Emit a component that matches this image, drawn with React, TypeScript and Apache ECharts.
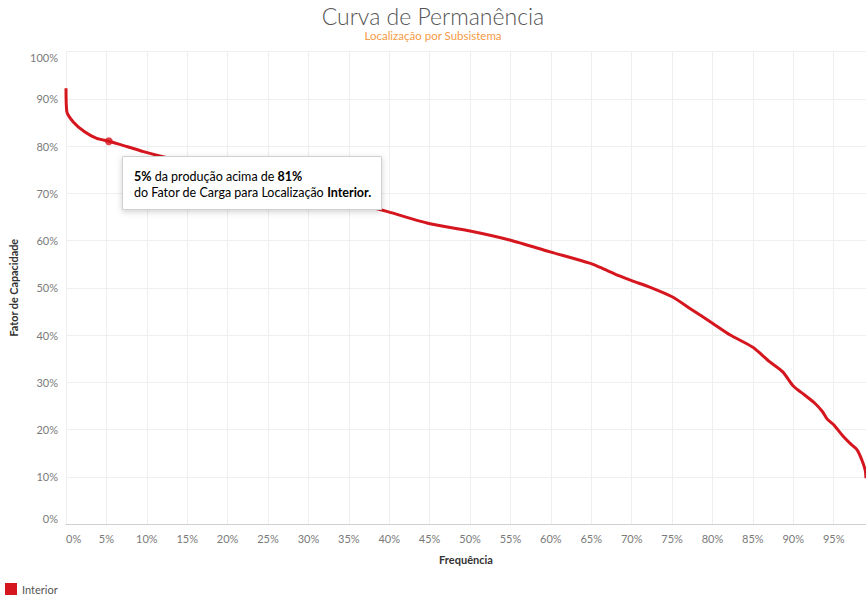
import React, { useEffect, useRef } from "react";
import * as echarts from "echarts";

const FONT = "Lato, 'Noto Sans', sans-serif";

const titleText = "Curva de Permanência";
const subtitleText = "Localização por Subsistema";
const seriesName = "Interior";
const xAxisName = "Frequência";
const yAxisName = "Fator de Capacidade";

// Frequência (%) and Fator de Capacidade (%)
const frequencia = [
  0, 0.1, 0.9, 2.3, 3.8, 5.3, 7.5, 9.6, 11.6, 15, 20, 25, 30, 35, 39.8, 44.9,
  50, 54.9, 59.9, 64.8, 66.1, 68.5, 70, 72.3, 75, 77.5, 80, 82.2, 85, 87.1,
  88.7, 90, 91.4, 92.7, 93.6, 94.2, 95, 96.2, 97, 97.9, 98.5, 98.9, 99,
];
const fatorCapacidade = [
  92.2, 87.3, 85.1, 83.0, 81.6, 81.0, 79.9, 78.8, 77.9, 76.6, 74.5, 72.4, 70.3,
  68.3, 66.1, 63.6, 62.0, 60.1, 57.6, 55.2, 54.3, 52.5, 51.5, 50.1, 48.1, 45.3,
  42.5, 40.0, 37.4, 34.3, 32.2, 29.2, 27.3, 25.5, 23.8, 22.2, 21.0, 18.5, 17.1,
  15.7, 13.5, 11.4, 9.7,
];

// highlighted point shown in the tooltip
const highlightFreq = [5.3];
const highlightCap = [81];
const tooltipFreqLabel = "5%";
const tooltipCapLabel = "81%";

const xMin = 0;
const xMax = 99;
const xInterval = 5;
const yMin = 0;
const yMax = 100;
const yInterval = 10;

const RED = "#d6161e";

export default function App() {
  const ref = useRef<HTMLDivElement>(null);

  useEffect(() => {
    document.body.style.margin = "0";
    if (!ref.current) return;
    const chart = echarts.init(ref.current, undefined, { renderer: "svg" });

    const lineData = frequencia.map((f, i) => [f, fatorCapacidade[i]]);
    const pointData = highlightFreq.map((f, i) => [f, highlightCap[i]]);

    chart.setOption({
      animation: false,
      backgroundColor: "#ffffff",
      textStyle: { fontFamily: FONT },
      title: {
        text: titleText,
        subtext: subtitleText,
        left: "center",
        top: -1,
        itemGap: 2,
        textStyle: {
          fontFamily: FONT,
          fontSize: 23,
          fontWeight: 300,
          color: "#555555",
        },
        subtextStyle: {
          fontFamily: FONT,
          fontSize: 11.5,
          color: "#f59a45",
        },
      },
      legend: {
        left: 5,
        top: 583,
        padding: 0,
        itemWidth: 12,
        itemHeight: 12,
        itemGap: 6,
        icon: "rect",
        textStyle: { fontFamily: FONT, fontSize: 11, color: "#555555" },
        data: [seriesName],
      },
      grid: { left: 66, right: 0, top: 51.5, bottom: 72, containLabel: false },
      xAxis: {
        type: "value",
        min: xMin,
        max: xMax,
        interval: xInterval,
        name: xAxisName,
        nameLocation: "middle",
        nameGap: 30,
        nameTextStyle: {
          fontFamily: FONT,
          fontSize: 11,
          fontWeight: "bold",
          color: "#333333",
        },
        axisLine: {
          show: true,
          lineStyle: { color: "#c8c8c8", type: "dotted", width: 1 },
        },
        axisTick: { show: false },
        axisLabel: {
          margin: 9,
          fontFamily: FONT,
          fontSize: 11,
          color: "#7a7a7a",
          alignMinLabel: "left",
          showMaxLabel: false,
          formatter: (v: number) => (v % xInterval === 0 ? `${v}%` : ""),
        },
        splitLine: { show: true, lineStyle: { color: "#efefef", width: 1 } },
      },
      yAxis: {
        type: "value",
        min: yMin,
        max: yMax,
        interval: yInterval,
        name: yAxisName,
        nameLocation: "middle",
        nameGap: 46,
        nameTextStyle: {
          fontFamily: FONT,
          fontSize: 10.8,
          fontWeight: "bold",
          color: "#333333",
        },
        axisLine: { show: false },
        axisTick: { show: false },
        axisLabel: {
          margin: 8,
          fontFamily: FONT,
          fontSize: 11,
          color: "#7a7a7a",
          verticalAlignMaxLabel: "top",
          verticalAlignMinLabel: "bottom",
          formatter: (v: number) => `${v}%`,
        },
        splitLine: { show: true, lineStyle: { color: "#efefef", width: 1 } },
      },
      series: [
        {
          name: seriesName,
          type: "line",
          data: lineData,
          smooth: 0.25,
          showSymbol: false,
          symbol: "none",
          lineStyle: { color: RED, width: 3 },
          itemStyle: { color: RED },
          z: 2,
        },
        {
          name: seriesName,
          type: "scatter",
          data: pointData,
          symbolSize: 8,
          itemStyle: { color: RED },
          z: 3,
        },
      ],
      graphic: [
        {
          type: "rect",
          shape: { x: 122.5, y: 156.5, width: 259, height: 53 },
          style: {
            fill: "#ffffff",
            stroke: "#d0d0d0",
            lineWidth: 1,
            shadowBlur: 6,
            shadowOffsetY: 2,
            shadowColor: "rgba(0,0,0,0.18)",
          },
          z: 100,
        },
        {
          type: "text",
          x: 134,
          y: 168,
          style: {
            text:
              `{b|${tooltipFreqLabel}}{n| da produção acima de }{b|${tooltipCapLabel}}\n` +
              `{n|do Fator de Carga para Localização }{b|${seriesName}.}`,
            fontFamily: FONT,
            fontSize: 12.5,
            lineHeight: 16,
            rich: {
              b: {
                fontFamily: FONT,
                fontSize: 12.5,
                fontWeight: "bold",
                color: "#3a3a3a",
                lineHeight: 16,
              },
              n: {
                fontFamily: FONT,
                fontSize: 12.5,
                color: "#777777",
                lineHeight: 16,
              },
            },
          },
          z: 101,
        },
      ],
    });

    return () => chart.dispose();
  }, []);

  return (
    <div
      ref={ref}
      style={{ position: "absolute", left: 0, top: 0, width: 866, height: 596 }}
    />
  );
}
